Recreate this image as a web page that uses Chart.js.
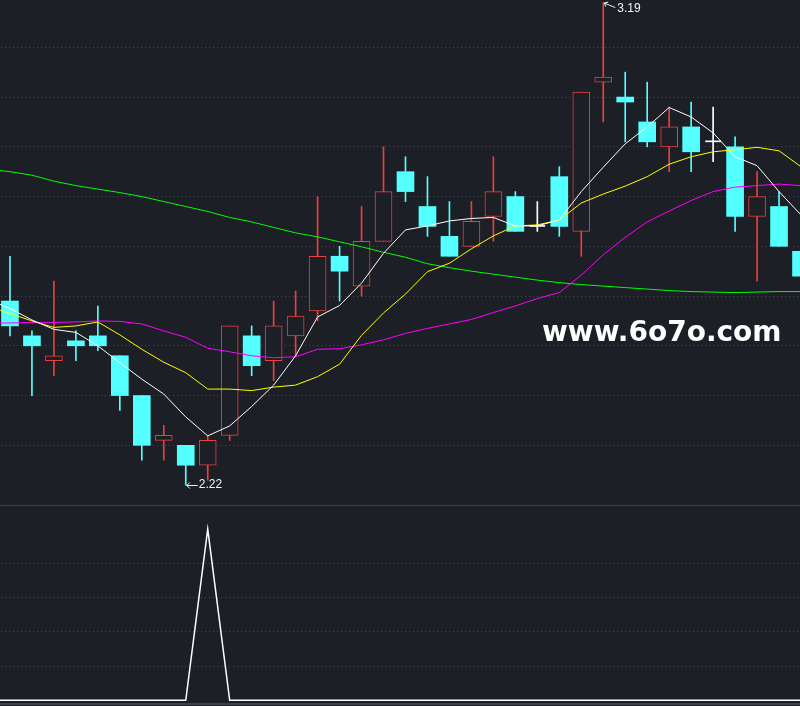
<!DOCTYPE html>
<html>
<head>
<meta charset="utf-8">
<script src="https://cdn.jsdelivr.net/npm/chart.js@4.4.0/dist/chart.umd.min.js"></script>
<style>
html, body { margin:0; padding:0; background:#1c1f26; width:800px; height:706px; overflow:hidden; position:relative; }
.pane { position:absolute; left:-23px; width:835px; }
#mainPane { top:0; height:506px; }
#subPane { top:506px; height:200px; }
.rule { position:absolute; left:0; width:800px; background:#3b404c; }
.mark { position:absolute; font:12px "Liberation Sans", Arial, sans-serif; line-height:12px; color:#f0f4fa; white-space:nowrap; }
#watermark { position:absolute; left:542px; top:318px; font:bold 28px "DejaVu Sans", sans-serif; line-height:28px; color:#ffffff; white-space:nowrap; }
</style>
</head>
<body>
<div id="mainPane" class="pane"><canvas id="mainChart"></canvas></div>
<div id="subPane" class="pane"><canvas id="subChart"></canvas></div>
<div class="rule" style="top:505px;height:1px"></div>
<div class="rule" style="top:703px;height:2px"></div>
<div id="watermark">www.6o7o.com</div>
<div id="hiLabel" class="mark"></div>
<div id="loLabel" class="mark"></div>
<script>
// === DATA ===
// first slot is the day before the visible window (only the averages show there)
const days = ['0','1','2','3','4','5','6','7','8','9','10','11','12','13','14','15','16','17','18','19',
              '20','21','22','23','24','25','26','27','28','29','30','31','32','33','34','35','36','37'];

const opens  = [null, 2.59,2.52,2.47,2.51,2.52,2.48,2.40,2.31,2.30,2.26, 2.32,2.52,2.47,2.52,2.57,2.68,2.62,2.71,2.85,2.78,
                2.72,2.70,2.76,2.80,2.74,2.84,2.73,3.03,3.00,2.95, 2.90,2.94,2.91,2.90,2.76,2.78,2.69];
const highs  = [null, 2.68,2.53,2.63,2.53,2.58,2.48,2.40,2.34,2.30,2.32, 2.54,2.54,2.59,2.61,2.80,2.70,2.78,2.90,2.88,2.84,
                2.79,2.79,2.88,2.81,2.79,2.86,3.01,3.19,3.05,3.03, 2.98,2.99,2.98,2.92,2.85,2.81,2.69];
const lows   = [null, 2.52,2.40,2.44,2.47,2.49,2.37,2.27,2.27,2.22,2.23, 2.31,2.44,2.43,2.48,2.55,2.59,2.60,2.71,2.79,2.72,
                2.68,2.70,2.71,2.73,2.73,2.72,2.68,2.95,2.91,2.90, 2.85,2.85,2.87,2.73,2.63,2.70,2.63];
const closes = [null, 2.54,2.50,2.48,2.50,2.50,2.40,2.30,2.32,2.26,2.31, 2.54,2.46,2.54,2.56,2.68,2.65,2.71,2.81,2.81,2.74,
                2.68,2.75,2.81,2.73,2.74,2.74,3.01,3.04,2.99,2.91, 2.94,2.89,2.91,2.76,2.80,2.70,2.64];

const ma5  = [2.593, 2.575,2.552,2.533,2.527,2.500,2.466,2.433,2.403,2.357,2.319, 2.339,2.378,2.421,2.480,2.558,2.581,2.626,2.686,2.733,2.741,
              2.751,2.756,2.758,2.741,2.741,2.753,2.810,2.859,2.906,2.940, 2.979,2.960,2.928,2.880,2.862,2.810,2.763];
const ma10 = [2.580, 2.565,2.550,2.537,2.540,2.548,2.522,2.493,2.467,2.446,2.413, 2.413,2.410,2.417,2.421,2.438,2.463,2.521,2.566,2.604,2.649,
              2.666,2.695,2.721,2.741,2.743,2.753,2.787,2.805,2.821,2.840, 2.865,2.880,2.890,2.894,2.899,2.892,2.860];
const ma20 = [2.546, 2.546,2.547,2.547,2.548,2.550,2.549,2.544,2.530,2.517,2.495, 2.488,2.480,2.476,2.478,2.493,2.494,2.502,2.512,2.525,2.535,
              2.544,2.553,2.567,2.580,2.595,2.607,2.642,2.683,2.718,2.749, 2.771,2.792,2.810,2.819,2.822,2.825,2.822];
const ma60 = [2.855, 2.850,2.843,2.831,2.822,2.815,2.808,2.800,2.790,2.780,2.770, 2.758,2.749,2.738,2.727,2.719,2.709,2.699,2.688,2.678,2.665,
              2.657,2.650,2.644,2.638,2.632,2.627,2.623,2.620,2.617,2.614, 2.611,2.609,2.608,2.607,2.608,2.609,2.609];

// lower indicator panel
const signal = [0, 0,0,0,0,0,0,0,0,0,100, 0,0,0,0,0,0,0,0,0,0,
                0,0,0,0,0,0,0,0,0,0, 0,0,0,0,0,0,0];

const priceTicks  = [2.3, 2.4, 2.5, 2.6, 2.7, 2.8, 2.9, 3.0, 3.1];
const signalTicks = [20, 40, 60, 80];

// === STYLE ===
const BG = '#1c1f26';
const GRID = '#464b56';
const RED = '#e8403c';
const CYAN = '#54ffff';
const WHITE = '#ffffff';
const LABEL = '#f0f4fa';
const PANE_SHIFT = -23; // pane left offset in the page

const kind = closes.map((c, i) => c == null ? null : c > opens[i] ? 'up' : c < opens[i] ? 'down' : 'flat');
const candleColor = { up: RED, down: CYAN, flat: WHITE };

function bodies(k) {
    return opens.map((o, i) => kind[i] === k ? [o, closes[i]] : null);
}

function maLine(label, data, color) {
    return { type: 'line', label, data, borderColor: color, borderWidth: 1, pointRadius: 0, tension: 0, order: 0 };
}

function gridAxis(min, max, ticks) {
    return {
        min, max,
        ticks: { display: false },
        grid: { color: GRID, drawTicks: false, lineWidth: 1 },
        border: { display: false, dash: [1, 3] },
        afterBuildTicks: ax => { ax.ticks = ticks.map(v => ({ value: v })); }
    };
}

// arrows next to the extreme labels
const extremeArrows = {
    id: 'extremeArrows',
    afterDatasetsDraw(chart) {
        const { ctx, scales: { x, y } } = chart;
        const hi = Math.max(...highs.filter(v => v != null));
        const lo = Math.min(...lows.filter(v => v != null));
        const hiX = x.getPixelForValue(highs.indexOf(hi)), hiY = y.getPixelForValue(hi);
        const loX = x.getPixelForValue(lows.indexOf(lo)), loY = y.getPixelForValue(lo);
        ctx.save();
        ctx.strokeStyle = LABEL;
        ctx.lineWidth = 1;
        ctx.beginPath();
        // high: slanted arrow
        ctx.moveTo(hiX + 1, hiY + 0.5); ctx.lineTo(hiX + 12, hiY + 5);
        ctx.moveTo(hiX + 1, hiY + 0.5); ctx.lineTo(hiX + 5, hiY - 0.5);
        ctx.moveTo(hiX + 1, hiY + 0.5); ctx.lineTo(hiX + 2.5, hiY + 4);
        // low: left arrow
        ctx.moveTo(loX + 1, Math.round(loY) + 0.5); ctx.lineTo(loX + 12, Math.round(loY) + 0.5);
        ctx.moveTo(loX + 1, Math.round(loY) + 0.5); ctx.lineTo(loX + 4, Math.round(loY) - 2.5);
        ctx.moveTo(loX + 1, Math.round(loY) + 0.5); ctx.lineTo(loX + 4, Math.round(loY) + 3.5);
        ctx.stroke();
        ctx.restore();
    }
};

const baseOptions = {
    responsive: true,
    maintainAspectRatio: false,
    animation: false,
    events: [],
    layout: { padding: 0 },
    plugins: { legend: { display: false }, tooltip: { enabled: false } }
};

// === MAIN PANEL: candles + averages ===
const mainChart = new Chart(document.getElementById('mainChart').getContext('2d'), {
    type: 'bar',
    data: {
        labels: days,
        datasets: [
            maLine('MA5', ma5, '#ffffff'),
            maLine('MA10', ma10, '#ffff00'),
            maLine('MA20', ma20, '#ff00ff'),
            maLine('MA60', ma60, '#00ff00'),
            { label: 'up', data: bodies('up'), backgroundColor: BG, borderColor: RED, borderWidth: 1,
              borderSkipped: false, barThickness: 17, grouped: false, order: 1 },
            { label: 'down', data: bodies('down'), backgroundColor: CYAN, borderWidth: 0,
              barThickness: 17, grouped: false, order: 1 },
            { label: 'flat', data: bodies('flat'), backgroundColor: WHITE, borderWidth: 0, minBarLength: 1,
              barThickness: 15, grouped: false, order: 1 },
            { label: 'wick', data: lows.map((l, i) => l == null ? null : [l, highs[i]]),
              backgroundColor: c => candleColor[kind[c.dataIndex]] || WHITE,
              borderWidth: 0, barThickness: 1, grouped: false, order: 2 }
        ]
    },
    options: {
        ...baseOptions,
        scales: {
            x: { display: false, offset: true },
            y: gridAxis(2.178, 3.1951, priceTicks)
        }
    },
    plugins: [extremeArrows]
});

// === LOWER PANEL: signal line ===
new Chart(document.getElementById('subChart').getContext('2d'), {
    type: 'line',
    data: {
        labels: days,
        datasets: [{ label: 'signal', data: signal, borderColor: WHITE, borderWidth: 1.5, pointRadius: 0, tension: 0 }]
    },
    options: {
        ...baseOptions,
        scales: {
            x: { display: false, offset: true },
            y: gridAxis(-3.33, 113.56, signalTicks)
        }
    }
});

// extreme price labels
(function placeLabels() {
    const { x, y } = mainChart.scales;
    const hi = Math.max(...highs.filter(v => v != null));
    const lo = Math.min(...lows.filter(v => v != null));
    const hiEl = document.getElementById('hiLabel');
    const loEl = document.getElementById('loLabel');
    hiEl.textContent = hi.toFixed(2);
    loEl.textContent = lo.toFixed(2);
    hiEl.style.left = (x.getPixelForValue(highs.indexOf(hi)) + PANE_SHIFT + 14) + 'px';
    hiEl.style.top = (y.getPixelForValue(hi) - 0.1) + 'px';
    loEl.style.left = (x.getPixelForValue(lows.indexOf(lo)) + PANE_SHIFT + 13) + 'px';
    loEl.style.top = (y.getPixelForValue(lo) - 6.7) + 'px';
})();
</script>
</body>
</html>
